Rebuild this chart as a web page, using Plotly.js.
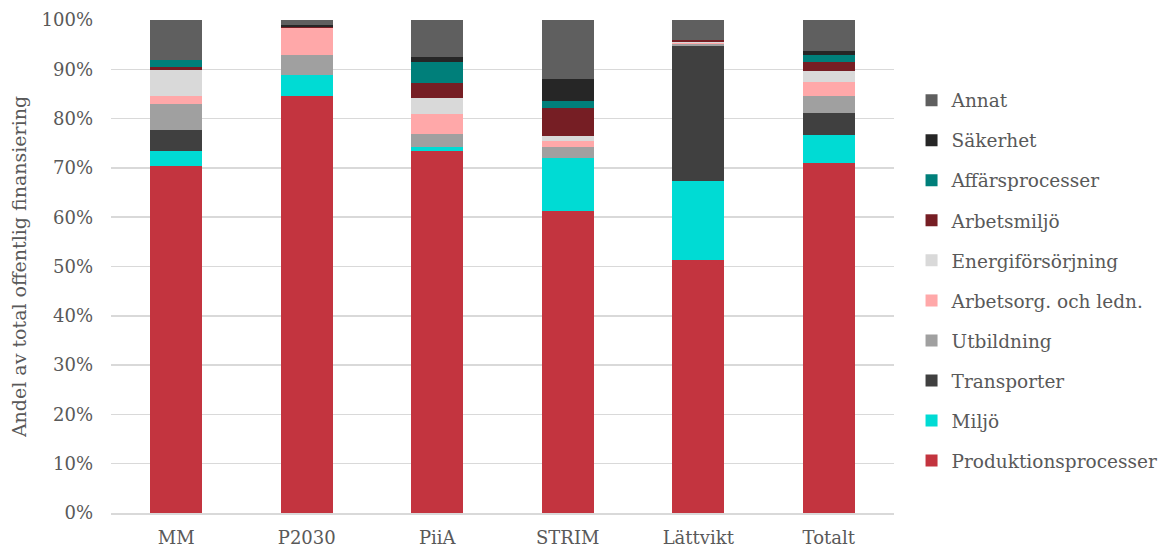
<!DOCTYPE html>
<html>
<head>
<meta charset="utf-8">
<script src="https://cdn.plot.ly/plotly-3.0.1.min.js"></script>
<style>html,body{margin:0;padding:0;background:#fff;}#chart{width:1164px;height:547px;}</style>
</head>
<body>
<div id="chart"></div>
<script>
const categories = ["MM", "P2030", "PiiA", "STRIM", "Lättvikt", "Totalt"];

const produktionsprocesser = [70.4, 84.6, 73.4, 61.3, 51.4, 71.0];
const miljo               = [3.0, 4.2, 0.9, 10.8, 15.9, 5.6];
const transporter         = [4.3, 0.0, 0.0, 0.0, 27.5, 4.5];
const utbildning          = [5.3, 4.2, 2.5, 2.1, 0.4, 3.5];
const arbetsorg           = [1.6, 5.4, 4.1, 1.2, 0.1, 2.9];
const energiforsorjning   = [5.2, 0.0, 3.3, 1.1, 0.3, 2.2];
const arbetsmiljo         = [0.7, 0.2, 3.0, 5.7, 0.3, 1.7];
const affarsprocesser     = [1.4, 0.0, 4.2, 1.4, 0.0, 1.5];
const sakerhet            = [0.0, 0.4, 1.0, 4.5, 0.0, 0.8];
const annat               = [8.1, 1.0, 7.6, 11.9, 4.1, 6.3];

const seriesNames = ["Produktionsprocesser", "Miljö", "Transporter", "Utbildning", "Arbetsorg. och ledn.",
                     "Energiförsörjning", "Arbetsmiljö", "Affärsprocesser", "Säkerhet", "Annat"];
const seriesValues = [produktionsprocesser, miljo, transporter, utbildning, arbetsorg,
                      energiforsorjning, arbetsmiljo, affarsprocesser, sakerhet, annat];
const seriesColors = ["#C3343F", "#00DBD4", "#404040", "#A0A0A0", "#FFA8A9",
                      "#D9D9D9", "#761E24", "#007F7A", "#262626", "#5F5F5F"];

const FONT = "Georgia, 'DejaVu Serif', serif";

const traces = seriesNames.map((n, i) => ({
  type: "bar",
  name: n,
  x: categories,
  y: seriesValues[i],
  legendgroup: "g" + i,
  legendrank: 100 - i,
  marker: {color: seriesColors[i], line: {width: 0}},
  hoverinfo: "name+y"
}));

const layout = {
  width: 1164,
  height: 547,
  barmode: "stack",
  bargap: 0.6,
  paper_bgcolor: "#fff",
  plot_bgcolor: "#fff",
  margin: {l: 111, r: 270, t: 20, b: 34, pad: 0, autoexpand: false},
  font: {family: FONT, color: "#595959", size: 18},
  xaxis: {
    type: "category",
    showgrid: false,
    showline: true,
    linecolor: "#D9D9D9",
    linewidth: 1.5,
    ticks: "",
    ticklabelstandoff: 8,
    tickfont: {family: FONT, size: 18, color: "#595959"},
    zeroline: false
  },
  yaxis: {
    range: [0, 100],
    dtick: 10,
    ticksuffix: "%",
    showgrid: true,
    gridcolor: "#D9D9D9",
    gridwidth: 1.5,
    zeroline: false,
    ticks: "",
    ticklabelstandoff: 17,
    tickfont: {family: FONT, size: 18, color: "#595959"},
    title: {text: "Andel av total offentlig finansiering", font: {family: FONT, size: 19, color: "#595959"}, standoff: 9}
  },
  legend: {
    x: 1.0224,
    xanchor: "left",
    y: 0.875,
    yanchor: "top",
    traceorder: "grouped",
    tracegroupgap: 13,
    font: {family: FONT, size: 18.5, color: "#595959"},
    itemwidth: 30,
    bgcolor: "rgba(0,0,0,0)"
  },
  showlegend: true
};

Plotly.newPlot("chart", traces, layout, {displayModeBar: false, staticPlot: true});
</script>
</body>
</html>
